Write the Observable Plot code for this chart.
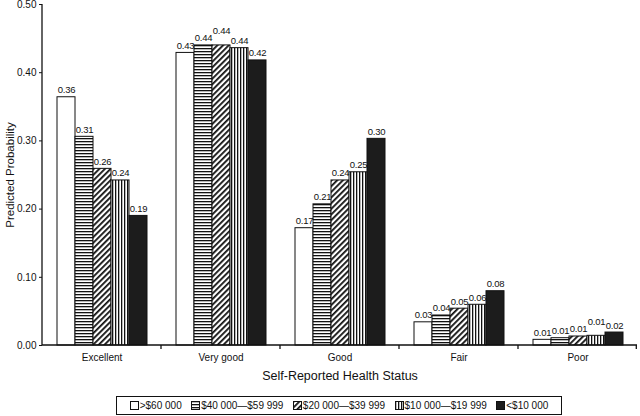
<!DOCTYPE html>
<html><head><meta charset="utf-8">
<script src="https://cdn.jsdelivr.net/npm/d3@7"></script>
<script src="https://cdn.jsdelivr.net/npm/@observablehq/plot@0.6"></script>
<style>
body{margin:0;background:#fff;font-family:"Liberation Sans",Arial,sans-serif;color:#111;}
#chart svg{display:block}
g[aria-label="fx-axis label"] text{font-size:12.5px}
g[aria-label="y-axis label"] text{font-size:11.5px}
#legend{box-sizing:border-box;margin:6px 0 0 116px;width:446px;height:19px;border:1.5px solid #111;display:flex;align-items:center;justify-content:space-around;padding:0 8px;font-size:10px;}
#legend .item{display:flex;align-items:center;white-space:nowrap}
#legend svg{margin-right:1px}
</style></head><body>
<svg width="0" height="0" style="position:absolute">
<defs>
<pattern id="pH" width="4" height="3" patternUnits="userSpaceOnUse"><rect width="4" height="3" fill="#fff"/><rect width="4" height="1.3" fill="#111"/></pattern>
<pattern id="pD" width="4" height="4" patternUnits="userSpaceOnUse" patternTransform="rotate(45)"><rect width="4" height="4" fill="#fff"/><rect width="1.8" height="4" fill="#111"/></pattern>
<pattern id="pV" width="3" height="4" patternUnits="userSpaceOnUse"><rect width="3" height="4" fill="#fff"/><rect width="1.3" height="4" fill="#111"/></pattern>
</defs>
</svg>
<div id="chart"></div>
<div id="legend"></div>
<script>
const categories = ["Excellent", "Very good", "Good", "Fair", "Poor"];
const series = [">$60 000", "$40 000\u2014$59 999", "$20 000\u2014$39 999", "$10 000\u2014$19 999", "<$10 000"];
const excellent = [0.364, 0.306, 0.259, 0.242, 0.190];
const veryGood  = [0.429, 0.440, 0.440, 0.436, 0.418];
const good      = [0.172, 0.207, 0.242, 0.254, 0.303];
const fair      = [0.034, 0.044, 0.054, 0.0597, 0.0796];
const poor      = [0.0083, 0.0107, 0.0132, 0.0142, 0.019];
const yTicks = [0, 0.1, 0.2, 0.3, 0.4, 0.5];
const fills = ["#fff", "url(#pH)", "url(#pD)", "url(#pV)", "#1c1c1c"];

const valuesByCat = [excellent, veryGood, good, fair, poor];
const fmt = d3.format(".2f");
// label lift: raise a label when its bar is (nearly) level with the previous one
const data = categories.flatMap((c, i) => series.map((s, j) => {
  const v = valuesByCat[i][j];
  const prev = j > 0 ? valuesByCat[i][j - 1] : null;
  const lift = prev != null && Math.abs(v - prev) < 0.0015 ? 7 : 0;
  return {cat: c, series: s, value: v, lift};
}));

const plot = Plot.plot({
  width: 640, height: 390,
  marginLeft: 41, marginRight: 2, marginTop: 4, marginBottom: 45,
  style: {fontFamily: '"Liberation Sans", Arial, sans-serif', fontSize: "10px", color: "#111"},
  fx: {domain: categories, padding: 0, label: "Self-Reported Health Status", labelAnchor: "center", tickSize: 0, tickPadding: 8, labelOffset: 34},
  x: {domain: series, axis: null, paddingInner: 0, paddingOuter: 0.71},
  y: {domain: [0, 0.5], ticks: yTicks, tickFormat: ".2f", tickSize: 3, tickPadding: 3, label: "Predicted Probability", labelAnchor: "center", labelArrow: "none", labelOffset: 37},
  color: {type: "ordinal", domain: series, range: fills},
  marks: [
    Plot.barY(data, {fx: "cat", x: "series", y: "value", fill: "series", stroke: "#111", strokeWidth: 1}),
    Plot.text(data.filter(d => !d.lift), {fx: "cat", x: "series", y: "value", text: d => fmt(d.value), lineAnchor: "bottom", dy: -4, fontSize: 9.5}),
    Plot.text(data.filter(d => d.lift), {fx: "cat", x: "series", y: "value", text: d => fmt(d.value), lineAnchor: "bottom", dy: -11, fontSize: 9.5})
  ]
});

const svg = d3.select(plot);
svg.selectAll('g[aria-label="text"] text').style("letter-spacing", "-0.3px");
const ys = plot.scale("y"), fxs = plot.scale("fx");
const y0 = ys.apply(0), y1 = ys.apply(0.5);
const left = fxs.apply(categories[0]);
const right = fxs.apply(categories[categories.length - 1]) + fxs.bandwidth;
const g = svg.append("g").attr("stroke", "#111").attr("stroke-width", 1.3);
g.append("line").attr("x1", left).attr("x2", left).attr("y1", y1).attr("y2", y0);
g.append("line").attr("x1", left).attr("x2", right).attr("y1", y0).attr("y2", y0);
categories.forEach((c, i) => {
  if (i > 0) {
    const xb = fxs.apply(c);
    g.append("line").attr("x1", xb).attr("x2", xb).attr("y1", y0).attr("y2", y0 + 4);
  }
});
g.append("line").attr("x1", right - 0.7).attr("x2", right - 0.7).attr("y1", y0).attr("y2", y0 + 4);

document.getElementById("chart").appendChild(plot);

const legend = document.getElementById("legend");
series.forEach((s, j) => {
  const item = document.createElement("div");
  item.className = "item";
  item.innerHTML = `<svg width="9" height="9"><rect x="0.5" y="0.5" width="8" height="8" fill="${fills[j]}" stroke="#111" stroke-width="1"/></svg><span>${s.replace("<", "&lt;").replace(">", "&gt;")}</span>`;
  legend.appendChild(item);
});
</script>
</body></html>
